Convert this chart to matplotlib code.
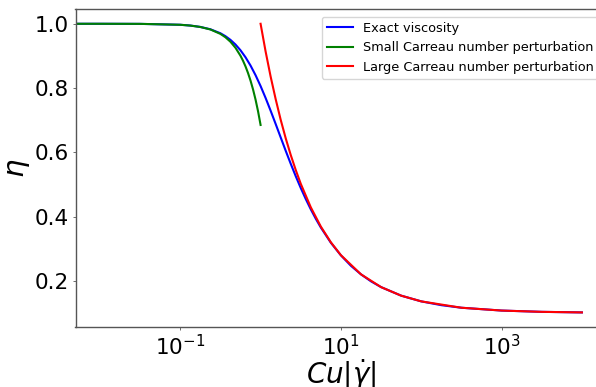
import numpy as np
import matplotlib
matplotlib.use("Agg")
import matplotlib.pyplot as plt

# log10(Cu|gamma_dot|) sample positions and eta values
exact_log_x = [-2.3, -2.0, -1.5, -1.0, -0.875, -0.75, -0.625, -0.5, -0.4375, -0.375,
               -0.3125, -0.25, -0.1875, -0.125, -0.0625, 0.0, 0.0625, 0.125, 0.1875, 0.25,
               0.3125, 0.375, 0.4375, 0.5, 0.5625, 0.625, 0.6875, 0.75, 0.875, 1.0,
               1.125, 1.25, 1.375, 1.5, 1.75, 2.0, 2.25, 2.5, 3.0, 3.5, 4.0]
exact_eta = [1.0000, 1.0000, 0.9997, 0.9969, 0.9945, 0.9902, 0.9829, 0.9705, 0.9614, 0.9499,
             0.9354, 0.9175, 0.8957, 0.8699, 0.8399, 0.8061, 0.7690, 0.7294, 0.6882, 0.6464,
             0.6048, 0.5644, 0.5256, 0.4888, 0.4544, 0.4224, 0.3929, 0.3658, 0.3183, 0.2790,
             0.2465, 0.2199, 0.1981, 0.1802, 0.1536, 0.1358, 0.1240, 0.1160, 0.1072, 0.1032, 0.1014]

small_log_x = [-2.3, -2.0, -1.5, -1.0, -0.875, -0.75, -0.625, -0.5, -0.4375, -0.375,
               -0.3125, -0.25, -0.21875, -0.1875, -0.15625, -0.125, -0.09375, -0.0625,
               -0.03125, 0.0]
small_eta = [1.0000, 1.0000, 0.9997, 0.9969, 0.9944, 0.9900, 0.9823, 0.9685, 0.9580, 0.9440,
             0.9253, 0.9004, 0.8850, 0.8672, 0.8466, 0.8229, 0.7955, 0.7638,
             0.7272, 0.6850]

large_log_x = [0.0, 0.0625, 0.125, 0.1875, 0.25, 0.3125, 0.375, 0.4375, 0.5, 0.625,
               0.75, 0.875, 1.0, 1.25, 1.5, 1.75, 2.0, 2.5, 3.0, 3.5, 4.0]
large_eta = [1.0000, 0.9138, 0.8358, 0.7657, 0.7015, 0.6438, 0.5918, 0.5449, 0.5020, 0.4287,
             0.3687, 0.3197, 0.2796, 0.2200, 0.1802, 0.1536, 0.1358, 0.1160, 0.1072, 0.1032,
             0.1014]

labels = ["Exact viscosity", "Small Carreau number perturbation",
          "Large Carreau number perturbation"]
x_ticks = [1e-1, 1e1, 1e3]
y_ticks = [0.2, 0.4, 0.6, 0.8, 1.0]

W, H = 596, 387
fig = plt.figure(figsize=(W / 100, H / 100), dpi=100)
ax = fig.add_axes([75.5 / W, (H - 327.2) / H, (606 - 75.5) / W, (327.2 - 9) / H])

ax.plot(np.power(10.0, exact_log_x), exact_eta, color="blue", lw=1.5, label=labels[0])
ax.plot(np.power(10.0, small_log_x), small_eta, color="green", lw=1.5, label=labels[1])
ax.plot(np.power(10.0, large_log_x), large_eta, color="red", lw=1.5, label=labels[2])

ax.set_xscale("log")
ax.set_xlim(10 ** -2.304, 10 ** 4.3)
ax.set_ylim(0.0554, 1.046)
ax.set_xticks(x_ticks)
ax.minorticks_off()
ax.set_yticks(y_ticks)
ax.set_yticklabels([f"{v:.1f}" for v in y_ticks])
ax.tick_params(axis="both", labelsize=15.5, length=2.5, width=0.6, color="#555555", pad=2.5)

for s in ax.spines.values():
    s.set_color("#555555")
    s.set_linewidth(1.0)

ax.set_xlabel(r"$Cu|\dot{\gamma}|$", fontsize=20, labelpad=-1.5)
ax.set_ylabel(r"$\eta$", fontsize=21, labelpad=2)

ax.legend(loc="upper right", bbox_to_anchor=(599 / W, (H - 16.7) / H),
          bbox_transform=fig.transFigure, borderaxespad=0, fontsize=9.3)

fig.savefig("out.png", dpi=100)
